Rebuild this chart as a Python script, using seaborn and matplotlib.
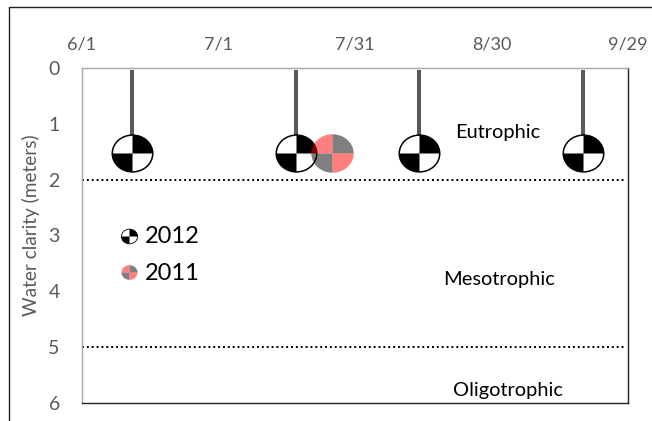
import matplotlib
matplotlib.use("Agg")
import matplotlib.pyplot as plt
import matplotlib.dates as mdates
import pandas as pd
import seaborn as sns
from matplotlib.lines import Line2D
from matplotlib.path import Path
from matplotlib.transforms import Affine2D

# Values (years share one axis, so 2012 dates are used)
dates_2012 = ["2012-06-12", "2012-07-18", "2012-08-14", "2012-09-19"]
clarity_2012 = [1.53, 1.53, 1.53, 1.53]
dates_2011 = ["2012-07-26"]
clarity_2011 = [1.53]
tick_dates = ["2012-06-01", "2012-07-01", "2012-07-31", "2012-08-30", "2012-09-29"]
tick_labels = ["6/1", "7/1", "7/31", "8/30", "9/29"]
depth_ticks = [0, 1, 2, 3, 4, 5, 6]
trophic_limits = [2, 5]
trophic_names = ["Eutrophic", "Mesotrophic", "Oligotrophic"]

sns.set_style("white")
plt.rcParams["font.family"] = ["Lato", "DejaVu Sans"]

df_2012 = pd.DataFrame({"date": pd.to_datetime(dates_2012), "clarity": clarity_2012})
df_2011 = pd.DataFrame({"date": pd.to_datetime(dates_2011), "clarity": clarity_2011})


# Secchi disc pieces, slightly wider than tall like the original
def wedges(*spans):
    squash = Affine2D().scale(1.1, 1)
    return Path.make_compound_path(*[Path.wedge(a, b).transformed(squash) for a, b in spans])


disc = Path.unit_circle().transformed(Affine2D().scale(1.1, 1))
quarters_a = wedges((0, 90), (180, 270))
quarters_b = wedges((90, 180), (270, 360))


def draw_disc_2012(ax, data, size, edge, **kw):
    sns.scatterplot(data=data, x="date", y="clarity", ax=ax, marker=disc, s=size, color="white",
                    edgecolor="black", linewidth=edge, zorder=3, clip_on=False, **kw)
    sns.scatterplot(data=data, x="date", y="clarity", ax=ax, marker=quarters_a, s=size, color="black",
                    linewidth=0, zorder=4, clip_on=False, **kw)


def draw_disc_2011(ax, data, size, **kw):
    sns.scatterplot(data=data, x="date", y="clarity", ax=ax, marker=quarters_a, s=size, color="black",
                    alpha=0.5, linewidth=0, zorder=5, clip_on=False, **kw)
    sns.scatterplot(data=data, x="date", y="clarity", ax=ax, marker=quarters_b, s=size, color="#ff0000",
                    alpha=0.5, linewidth=0, zorder=5, clip_on=False, **kw)


fig = plt.figure(figsize=(6.52, 4.21), dpi=100)
ax = fig.add_axes([82 / 652, 1 - 403 / 421, 546 / 652, 335 / 421])

# Stems from the surface down to each reading
ax.vlines(df_2012["date"], 0.04, df_2012["clarity"], color="#595959", linewidth=2.9, zorder=2)

draw_disc_2012(ax, df_2012, 850, 1.1)
draw_disc_2011(ax, df_2011, 930)

for limit in trophic_limits:
    ax.axhline(limit, xmax=0.995, color="black", linewidth=1.4, linestyle=(0, (1, 1.5)), zorder=1)

# Zone names
zone_x = [0.762, 0.764, 0.781]
zone_y = [0.808, 0.368, 0.038]
for name, x, y in zip(trophic_names, zone_x, zone_y):
    ax.text(x, y, name, transform=ax.transAxes, ha="center", va="center", fontsize=14.4, color="black")

# Hand-placed key inside the plot, as in the original
key_2012 = pd.DataFrame({"date": [0.0869], "clarity": [0.4985]})
key_2011 = pd.DataFrame({"date": [0.0869], "clarity": [0.3925]})
draw_disc_2012(ax, key_2012, 135, 0.6, transform=ax.transAxes)
draw_disc_2011(ax, key_2011, 135, transform=ax.transAxes)
ax.text(0.115, 0.4985, "2012", transform=ax.transAxes, va="center", fontsize=17, color="black")
ax.text(0.115, 0.387, "2011", transform=ax.transAxes, va="center", fontsize=17, color="black")

ax.set_xlim(pd.Timestamp(tick_dates[0]), pd.Timestamp(tick_dates[-1]))
ax.set_ylim(6, 0)
ax.xaxis.tick_top()
ax.set_xticks([mdates.date2num(pd.Timestamp(d)) for d in tick_dates])
ax.set_xticklabels(tick_labels)
ax.set_yticks(depth_ticks)
ax.tick_params(axis="x", length=0, pad=11.5, labelsize=13, labelcolor="#595959")
ax.tick_params(axis="y", length=0, pad=16, labelsize=14, labelcolor="#595959")
ax.set_xlabel("")
ax.set_ylabel("")
fig.text(31 / 652, 1 - 225 / 421, "Water clarity (meters)", rotation=90, ha="center", va="center",
         fontsize=13.7, color="#595959")

ax.spines["top"].set_color("#a6a6a6")
ax.spines["left"].set_color("#a6a6a6")
ax.spines["right"].set_color("#222222")
ax.spines["bottom"].set_color("#222222")
for side in ax.spines:
    ax.spines[side].set_linewidth(1)

# Outer frame, cut off at the right and bottom of the image
fig.add_artist(Line2D([9 / 652, 9 / 652, 1], [0, 1 - 6.5 / 421, 1 - 6.5 / 421], color="#222222", linewidth=1))

fig.savefig("out.png", dpi=100)
